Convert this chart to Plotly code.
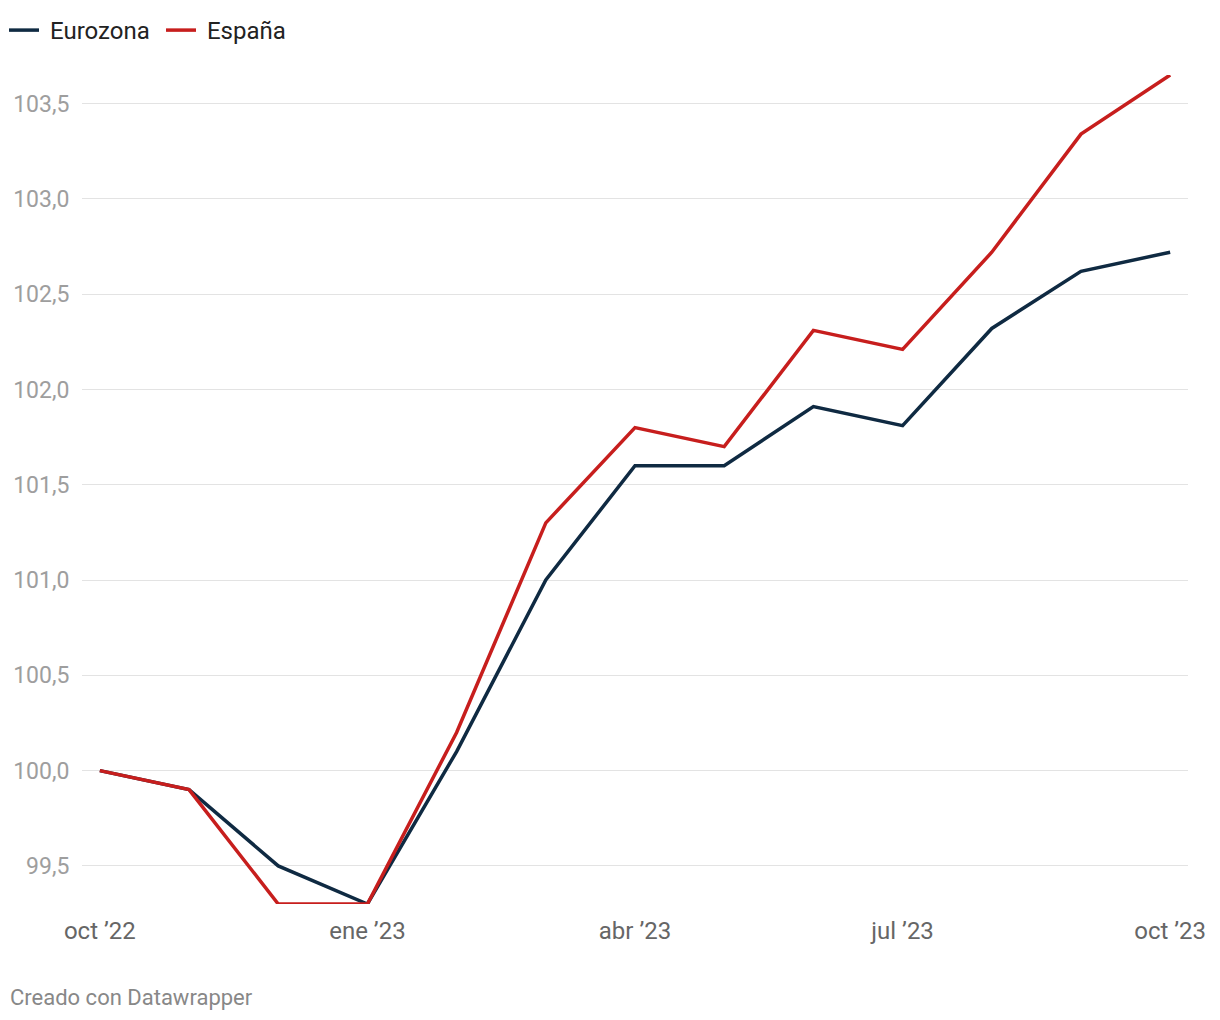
import plotly.graph_objects as go

months = ["oct '22", "nov '22", "dic '22", "ene '23", "feb '23", "mar '23", "abr '23",
          "may '23", "jun '23", "jul '23", "ago '23", "sep '23", "oct '23"]
eurozona = [100.0, 99.9, 99.5, 99.3, 100.1, 101.0, 101.6, 101.6, 101.91, 101.81, 102.32, 102.62, 102.72]
espana = [100.0, 99.9, 99.3, 99.3, 100.2, 101.3, 101.8, 101.7, 102.31, 102.21, 102.72, 103.34, 103.65]
x_tick_idx = [0, 3, 6, 9, 12]
x_tick_labels = ["oct \u201922", "ene \u201923", "abr \u201923", "jul \u201923", "oct \u201923"]
y_ticks = [99.5, 100.0, 100.5, 101.0, 101.5, 102.0, 102.5, 103.0, 103.5]
y_tick_labels = ["99,5", "100,0", "100,5", "101,0", "101,5", "102,0", "102,5", "103,0", "103,5"]

xs = list(range(len(months)))
fig = go.Figure()
fig.add_trace(go.Scatter(x=xs, y=eurozona, name="\u00a0Eurozona", mode="lines",
                         line=dict(color="#0f2a42", width=3.5), cliponaxis=False))
fig.add_trace(go.Scatter(x=xs, y=espana, name="\u00a0España", mode="lines",
                         line=dict(color="#c71e1d", width=3.5), cliponaxis=False))

annotations = [dict(x=0, xref="paper", y=0, yref="paper", text="Creado con Datawrapper",
                    showarrow=False, xanchor="left", yanchor="middle", xshift=-74, yshift=-93,
                    font=dict(family="Roboto", size=22, color="#888888"))]

fig.update_layout(
    width=1212, height=1012,
    margin=dict(l=74, r=32, t=67, b=116, autoexpand=False),
    paper_bgcolor="white", plot_bgcolor="white",
    font=dict(family="Roboto", size=20, color="#222222"),
    showlegend=True,
    legend=dict(orientation="h", xref="paper", yref="container", x=-0.0705, y=1.0,
                xanchor="left", yanchor="top", font=dict(family="Roboto", size=24, color="#222222"),
                itemwidth=30, entrywidth=112, tracegroupgap=0, bgcolor="rgba(0,0,0,0)"),
    xaxis=dict(range=[-0.2, 12.2], tickmode="array", tickvals=x_tick_idx, ticktext=x_tick_labels,
               showgrid=False, zeroline=False, showline=False, ticks="outside", ticklen=5,
               automargin=False,
               tickcolor="rgba(0,0,0,0)", tickfont=dict(family="Roboto", size=24, color="#666666")),
    yaxis=dict(range=[99.3, 103.65], tickmode="array", tickvals=y_ticks, ticktext=y_tick_labels,
               showgrid=True, gridcolor="#e3e3e3", gridwidth=1, zeroline=False, showline=False,
               ticks="outside", ticklen=7, tickcolor="rgba(0,0,0,0)", automargin=False,
               tickfont=dict(family="Roboto", size=23, color="#9e9e9e")),
    annotations=annotations,
)
fig.write_html("out.html")
